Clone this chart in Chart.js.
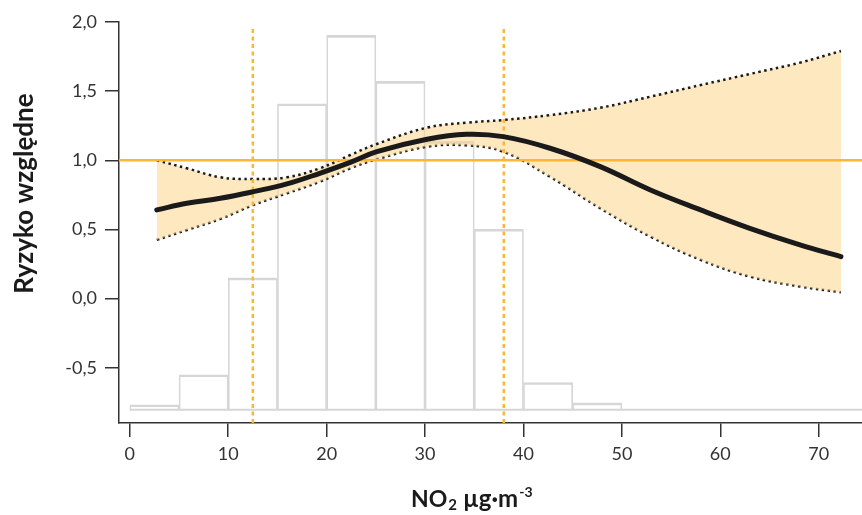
<!DOCTYPE html>
<html lang="pl">
<head>
    <meta charset="UTF-8">
    <title>Ryzyko względne – NO2</title>
    <script src="https://cdn.jsdelivr.net/npm/chart.js"></script>
    <style>
        html, body { margin: 0; padding: 0; background: #fff; }
        #wrap { width: 862px; height: 515px; }
    </style>
</head>
<body>
    <div id="wrap"><canvas id="rrChart"></canvas></div>

    <script>
        // histogram rozkładu NO2 (przedziały co 5 µg/m3), wysokości w jednostkach osi Y
        const binCenters = [2.5, 7.5, 12.5, 17.5, 22.5, 27.5, 32.5, 37.5, 42.5, 47.5];
        const binTops = [-0.768, -0.551, 0.150, 1.409, 1.903, 1.571, 1.137, 0.501, -0.607, -0.754];
        const histBase = -0.804;

        // krzywa ryzyka względnego z przedziałem ufności
        const curveX = [2.74, 5.8, 9.2, 12.56, 15.96, 19.3, 22.4, 25.1, 30.2, 34.2, 37.95, 42.7, 47.8, 52.9, 58.0, 63.0, 68.1, 72.26];
        const rrMain = [0.641, 0.689, 0.725, 0.773, 0.829, 0.906, 0.985, 1.062, 1.152, 1.188, 1.171, 1.087, 0.954, 0.785, 0.641, 0.508, 0.388, 0.303];
        const rrUpper = [1.0, 0.942, 0.877, 0.865, 0.877, 0.942, 1.038, 1.118, 1.236, 1.272, 1.291, 1.327, 1.380, 1.46, 1.544, 1.624, 1.706, 1.79];
        const rrLower = [0.424, 0.496, 0.576, 0.677, 0.761, 0.845, 0.942, 1.007, 1.098, 1.108, 1.062, 0.881, 0.653, 0.448, 0.280, 0.159, 0.087, 0.046];

        // linie odniesienia
        const refLevel = 1.0;
        const refQuantiles = [12.5, 38];

        const xTicks = [0, 10, 20, 30, 40, 50, 60, 70];
        const yTicks = [-0.5, 0, 0.5, 1.0, 1.5, 2.0];
        const xMin = -1.1, xMax = 74.4, yMin = -0.9, yMax = 2.0;

        const orange = '#fbb634';
        const ink = '#333333';
        const titleInk = '#1a1a1a';

        function pts(xs, ys) {
            return xs.map((x, i) => ({ x: x, y: ys[i] }));
        }

        // tytuły osi rysowane ręcznie (indeks dolny / górny w jednostce)
        const axisTitles = {
            id: 'axisTitles',
            afterDraw(chart) {
                const ctx = chart.ctx;
                ctx.save();
                ctx.fillStyle = titleInk;
                ctx.textBaseline = 'alphabetic';

                ctx.save();
                ctx.translate(33, 193.5);
                ctx.rotate(-Math.PI / 2);
                ctx.textAlign = 'center';
                ctx.font = 'bold 26px Lato';
                ctx.fillText('Ryzyko względne', 0, 0);
                ctx.restore();

                ctx.textAlign = 'left';
                let x = 411, y = 507;
                ctx.font = 'bold 23px Lato';
                ctx.fillText('NO', x, y);
                x += ctx.measureText('NO').width + 1;
                ctx.font = 'bold 15px Lato';
                ctx.fillText('2', x, y + 3);
                x += ctx.measureText('2').width + 6;
                ctx.font = 'bold 24px Lato';
                ctx.fillText('µg·m', x, y);
                x += ctx.measureText('µg·m').width + 1;
                ctx.font = 'bold 14px Lato';
                ctx.fillText('-3', x, y - 10);
                ctx.restore();
            }
        };

        const datasets = [
            {
                type: 'bar',
                data: binCenters.map((x, i) => ({ x: x, y: [histBase, binTops[i]] })),
                backgroundColor: 'rgba(255,255,255,0)',
                borderColor: '#d6d6d6',
                borderWidth: { top: 2, left: 1, right: 1, bottom: 0 },
                borderSkipped: false,
                barPercentage: 1,
                categoryPercentage: 1,
                order: 10
            },
            {
                type: 'line',
                data: [{ x: 0, y: histBase }, { x: xMax, y: histBase }],
                borderColor: '#d6d6d6',
                borderWidth: 2,
                pointRadius: 0,
                order: 9
            },
            {
                // górna granica przedziału, wypełnienie do dolnej
                type: 'line',
                data: pts(curveX, rrUpper),
                borderColor: '#1a1a1a',
                borderWidth: 2.5,
                borderDash: [2.5, 3.5],
                backgroundColor: 'rgba(252, 213, 140, 0.55)',
                fill: '+1',
                tension: 0.4,
                pointRadius: 0,
                order: 5
            },
            {
                type: 'line',
                data: pts(curveX, rrLower),
                borderColor: '#1a1a1a',
                borderWidth: 2.5,
                borderDash: [2.5, 3.5],
                fill: false,
                tension: 0.4,
                pointRadius: 0,
                order: 5
            },
            {
                type: 'line',
                data: [{ x: xMin, y: refLevel }, { x: xMax, y: refLevel }],
                borderColor: orange,
                borderWidth: 2.5,
                pointRadius: 0,
                order: 3
            },
            ...refQuantiles.map(q => ({
                type: 'line',
                data: [{ x: q, y: yMin }, { x: q, y: 1.954 }],
                borderColor: orange,
                borderWidth: 2.5,
                borderDash: [4, 3.5],
                pointRadius: 0,
                order: 3
            })),
            {
                type: 'line',
                data: pts(curveX, rrMain),
                borderColor: '#1a1a1a',
                borderWidth: 5,
                borderCapStyle: 'round',
                tension: 0.4,
                pointRadius: 0,
                order: 1
            }
        ];

        new Chart(document.getElementById('rrChart'), {
            type: 'line',
            data: { datasets: datasets },
            plugins: [axisTitles],
            options: {
                responsive: true,
                maintainAspectRatio: false,
                animation: false,
                layout: { padding: { top: 22, right: 0, left: 0, bottom: 0 } },
                plugins: {
                    legend: { display: false },
                    tooltip: { enabled: false }
                },
                scales: {
                    x: {
                        type: 'linear',
                        min: xMin,
                        max: xMax,
                        offset: false,
                        afterBuildTicks: s => { s.ticks = xTicks.map(v => ({ value: v })); },
                        afterFit: s => { s.height = 92; },
                        grid: { offset: false, drawOnChartArea: false, drawTicks: true, tickLength: 14, color: ink, lineWidth: 1.5 },
                        border: { display: true, color: ink, width: 1.5 },
                        ticks: {
                            color: ink,
                            padding: 6,
                            font: { family: 'Lato', size: 18 },
                            maxRotation: 0,
                            autoSkip: false
                        },
                        title: { display: false }
                    },
                    y: {
                        type: 'linear',
                        min: yMin,
                        max: yMax,
                        afterBuildTicks: s => { s.ticks = yTicks.map(v => ({ value: v })); },
                        afterFit: s => { s.width = 119; },
                        grid: { drawOnChartArea: false, drawTicks: true, tickLength: 14, color: ink, lineWidth: 1.5 },
                        border: { display: true, color: ink, width: 1.5 },
                        ticks: {
                            color: ink,
                            padding: 8,
                            font: { family: 'Lato', size: 18 },
                            callback: v => v.toFixed(1).replace('.', ',')
                        },
                        title: { display: false }
                    }
                }
            }
        });
    </script>
</body>
</html>
